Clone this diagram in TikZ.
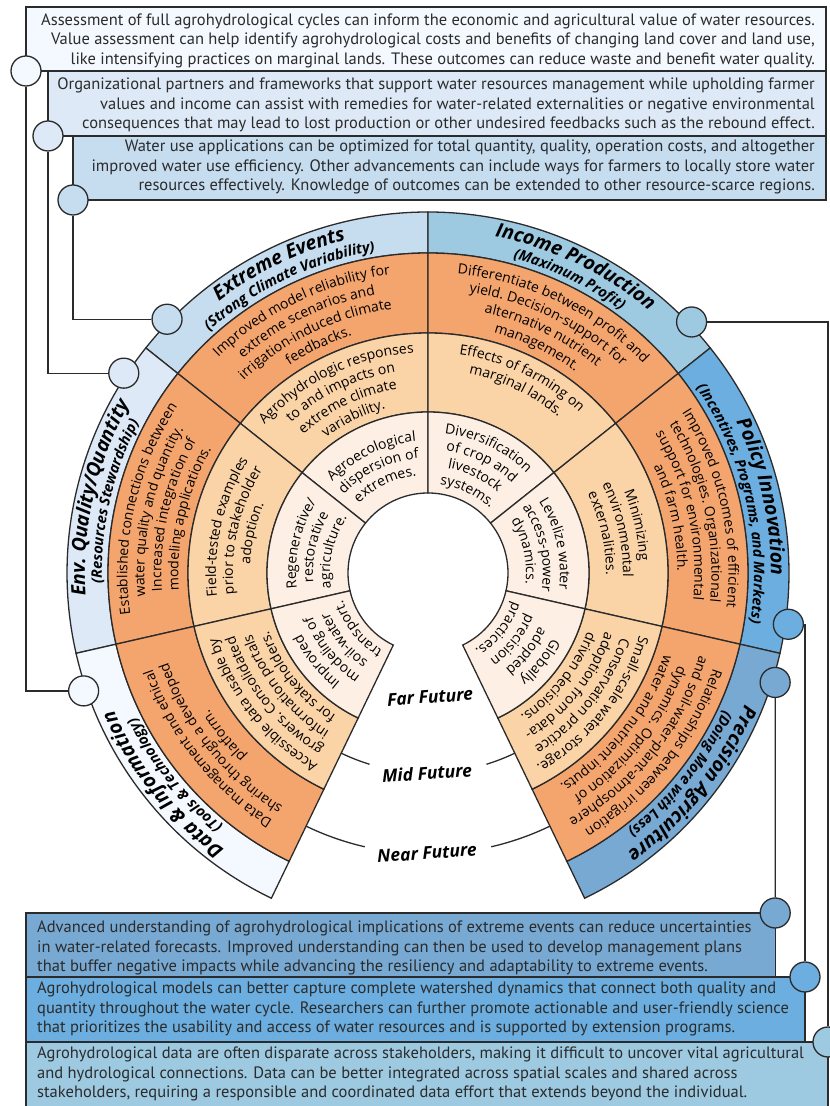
\documentclass[tikz,border=0pt]{standalone}
\usepackage{fontspec}
\setmainfont{PT Sans}
\newfontfamily\wheelfam{Open Sans}
\usepackage{tikz}
\usetikzlibrary{decorations.text}

\definecolor{ink}{HTML}{2B2B2B}
\definecolor{orng}{HTML}{F4A56E}
\definecolor{peach}{HTML}{FAD3A7}
\definecolor{cream}{HTML}{FDEFE3}
\definecolor{cExt}{HTML}{C6DCEF}
\definecolor{cEnv}{HTML}{DDE9F6}
\definecolor{cDat}{HTML}{F3F9FE}
\definecolor{cInc}{HTML}{9DC9E1}
\definecolor{cPol}{HTML}{6BAEDF}
\definecolor{cPre}{HTML}{78A9D3}

\tikzstyle{knob}=[circle, draw=ink, line width=1.3pt, minimum size=30pt, inner sep=0pt]
\tikzstyle{panel}=[draw=ink, line width=1.3pt]
\tikzstyle{wire}=[draw=ink, line width=1.3pt]
\tikzstyle{boxtxt}=[font=\fontsize{16.5}{19.5}\selectfont, inner sep=0pt, text=ink]
\tikzstyle{fut}=[font=\wheelfam\fontsize{17.5}{17.5}\selectfont\bfseries\itshape, inner sep=1pt]

\newcommand\bandfont{\wheelfam\fontsize{14}{14}\selectfont}
\newcommand\headfont{\wheelfam\fontsize{19.5}{19.5}\selectfont\bfseries\itshape}
\newcommand\subfont{\wheelfam\fontsize{14.5}{14.5}\selectfont\bfseries\itshape}

% ring piece: colour, from angle, to angle, inner r, outer r
\newcommand\sector[5]{\filldraw[fill=#1,draw=ink,line width=1.3pt] (#2:#4) arc[start angle=#2,end angle=#3,radius=#4] -- (#3:#5) arc[start angle=#3,end angle=#2,radius=#5] -- cycle;}
% one line of text bent round the centre
\newcommand\archead[4]{\path[decorate,decoration={text along path,text align=center,text={|#3|#4}}] (#1+85:#2) arc[start angle=#1+85,end angle=#1-85,radius=#2];}
\newcommand\arcline[3]{\archead{#1}{#2}{\bandfont}{#3}}
% several lines, centred on radius #2
\newcommand\arcblock[4]{\foreach \t [count=\k from 0] in {#4}{%
  \pgfmathsetmacro\rr{#2+((#3-1)/2-\k)*17-5}%
  \edef\x{\noexpand\arcline{#1}{\rr}{\t}}\x}}

\begin{document}
\begin{tikzpicture}[x=1pt,y=1pt]
\useasboundingbox (0,0) rectangle (830,1106);

% boxes
\draw[panel, fill=cDat] (26,1035) rectangle (826,1099);
\draw[panel, fill=cEnv] (48,970) rectangle (826,1035);
\draw[panel, fill=cExt] (73,906) rectangle (826,970);
\draw[panel, fill=cInc] (26,-5) rectangle (828,64);
\draw[panel, fill=cPol] (26,64) rectangle (805,129);
\draw[panel, fill=cPre] (26,129) rectangle (775.2,193);

\begin{scope}[shift={(428,533)}]
% the wheel
\foreach \a/\c in {90/cExt,141.429/cEnv,192.857/cDat,38.571/cInc,-12.857/cPol,-64.286/cPre}{
  \sector{\c}{\a}{\a+51.429}{320}{361}
  \sector{orng}{\a}{\a+51.429}{240}{320}
  \sector{peach}{\a}{\a+51.429}{161}{240}
  \sector{cream}{\a}{\a+51.429}{80}{161}
}
\draw[wire] (244.286:200) arc[start angle=244.286,end angle=253,radius=200];
\draw[wire] (287:200) arc[start angle=287,end angle=295.714,radius=200];
\draw[wire] (244.286:281) arc[start angle=244.286,end angle=257,radius=281];
\draw[wire] (283:281) arc[start angle=283,end angle=295.714,radius=281];
\node[fut, rotate=4] (far) at (2,-124) {Far Future};
\node[fut, rotate=4] (mid) at (-1,-200) {Mid Future};
\node[fut, rotate=4] (near) at (-1,-280) {Near Future};

% headings
\archead{115.714}{343}{\headfont}{Extreme Events}
\archead{115.714}{326}{\subfont}{(Strong Climate Variability)}
\archead{167.143}{343}{\headfont}{Env. Quality/Quantity}
\archead{167.143}{326}{\subfont}{(Resources Stewardship)}
\archead{218.571}{343}{\headfont}{Data {\&} Information}
\archead{218.571}{326}{\subfont}{(Tools {\&} Technology)}
\archead{64.286}{343}{\headfont}{Income Production}
\archead{64.286}{326}{\subfont}{(Maximum Profit)}
\archead{12.857}{343}{\headfont}{Policy Innovation}
\archead{12.857}{326}{\subfont}{(Incentives, Programs, and Markets)}
\archead{-38.571}{343}{\headfont}{Precision Agriculture}
\archead{-38.571}{326}{\subfont}{(Doing More with Less)}

% extreme events
\arcblock{115.714}{280}{4}{Improved model reliability for,extreme scenarios and,irrigation-induced climate,feedbacks.}
\arcblock{115.714}{200}{4}{Agrohydrologic responses,to and impacts on,extreme climate,variability.}
\arcblock{115.714}{120}{3}{Agroecological,dispersion of,extremes.}
% env. quality
\arcblock{167.143}{280}{4}{Established connections between,water quality and quantity.,Increased integration of,modeling applications.}
\arcblock{167.143}{200}{3}{Field-tested examples,prior to stakeholder,adoption.}
\arcblock{167.143}{120}{3}{Regenerative/,restorative,agriculture.}
% data
\arcblock{218.571}{280}{3}{Data management and ethical,sharing through a developed,platform.}
\arcblock{218.571}{200}{4}{Accessible data usable by,growers. Consolidated,information portals,for stakeholders.}
\arcblock{218.571}{120}{4}{Improved,modeling of,soil-water,transport.}
% income
\arcblock{64.286}{280}{4}{Differentiate between profit and,yield. Decision-support for,alternative nutrient,management.}
\arcblock{64.286}{217}{2}{Effects of farming on,marginal lands.}
\arcblock{64.286}{120}{4}{Diversification,of crop and,livestock,systems.}
% policy
\arcblock{12.857}{280}{4}{Improved outcomes of efficient,technologies. Organizational,support for environmental,and farm health.}
\arcblock{12.857}{200}{3}{Minimizing,environmental,externalities.}
\arcblock{12.857}{120}{3}{Levelize water,access-power,dynamics.}
% precision
\arcblock{-38.571}{280}{4}{Relationships between irrigation,and soil-water-plant-atmosphere,dynamics. Optimization of,water and nutrient inputs.}
\arcblock{-38.571}{200}{4}{Small-scale water storage.,Conservation practice,adoption from data-,driven decisions.}
\arcblock{-38.571}{120}{4}{Globally,adopted,precision,practices.}

% knobs on the rim
\node[knob, fill=cExt] (ek) at (135.8:364) {};
\node[knob, fill=cEnv] (qk) at (146.7:364) {};
\node[knob, fill=cDat] (dk) at (198.9:364) {};
\node[knob, fill=cInc] (ik) at (43.6:364) {};
\node[knob, fill=cPol] (pk) at (-8.1:364) {};
\node[knob, fill=cPre] (ak) at (-17.5:364) {};
\end{scope}

% knobs on the boxes
\node[knob, fill=cDat] (bk1) at (26,1035) {};
\node[knob, fill=cEnv] (bk2) at (48,970) {};
\node[knob, fill=cExt] (bk3) at (73,906) {};
\node[knob, fill=cPre] (bkA) at (775.2,193) {};
\node[knob, fill=cPol] (bkB) at (805,129) {};
\node[knob, fill=cInc] (bkC) at (828,64) {};

\draw[wire] (bk1) |- (dk);
\draw[wire] (bk2) |- (qk);
\draw[wire] (bk3) |- (ek);
\draw[wire] (ik) -| (bkC);
\draw[wire] (pk) -| (bkB);
\draw[wire] (ak) -- (bkA);

% box texts
\node[boxtxt, align=right, anchor=east] (t1) at (815,1065.5) {Assessment of full agrohydrological cycles can inform the economic and agricultural value of water resources.\\Value assessment can help identify agrohydrological costs and benefits of changing land cover and land use,\\like intensifying practices on marginal lands. These outcomes can reduce waste and benefit water quality.};
\node[boxtxt, align=right, anchor=east] (t2) at (815,1001) {Organizational partners and frameworks that support water resources management while upholding farmer\\values and income can assist with remedies for water-related externalities or negative environmental\\consequences that may lead to lost production or other undesired feedbacks such as the rebound effect.};
\node[boxtxt, align=right, anchor=east] (t3) at (815,939) {Water use applications can be optimized for total quantity, quality, operation costs, and altogether\\improved water use efficiency. Other advancements can include ways for farmers to locally store water\\resources effectively. Knowledge of outcomes can be extended to other resource-scarce regions.};
\node[boxtxt, align=left, anchor=west] (tA) at (37,158) {Advanced understanding of agrohydrological implications of extreme events can reduce uncertainties\\in water-related forecasts. Improved understanding can then be used to develop management plans\\that buffer negative impacts while advancing the resiliency and adaptability to extreme events.};
\node[boxtxt, align=left, anchor=west] (tB) at (37,97) {Agrohydrological models can better capture complete watershed dynamics that connect both quality and\\quantity throughout the water cycle. Researchers can further promote actionable and user-friendly science\\that prioritizes the usability and access of water resources and is supported by extension programs.};
\node[boxtxt, align=left, anchor=west] (tC) at (37,32) {Agrohydrological data are often disparate across stakeholders, making it difficult to uncover vital agricultural\\and hydrological connections. Data can be better integrated across spatial scales and shared across\\stakeholders, requiring a responsible and coordinated data effort that extends beyond the individual.};
\end{tikzpicture}
\end{document}
